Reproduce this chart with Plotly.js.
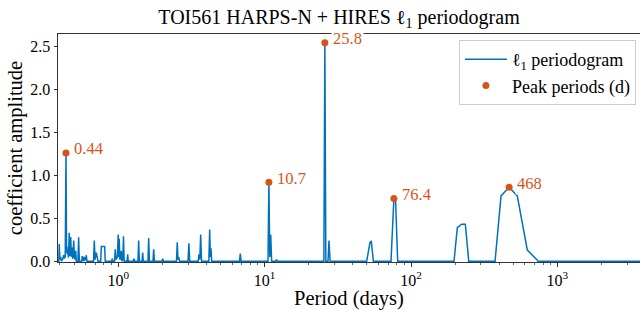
<!DOCTYPE html>
<html>
<head>
<meta charset="utf-8">
<script src="https://cdn.plot.ly/plotly-3.0.1.min.js"></script>
<style>html,body{margin:0;padding:0;background:#fff;overflow:hidden}#chart{width:640px;height:310px}</style>
</head>
<body>
<div id="chart"></div>
<script>
// l1 periodogram: period (days) and coefficient amplitude
const period = [
  0.388, 0.393, 0.396, 0.400, 0.405, 0.409,
  0.419, 0.424, 0.429, 0.435, 0.440, 0.444, 0.447, 0.450, 0.454, 0.458, 0.463, 0.468, 0.474, 0.479, 0.484, 0.490, 0.497, 0.503, 0.509, 0.513, 0.518,
  0.531, 0.537, 0.543,
  0.563, 0.569, 0.575, 0.581, 0.587, 0.593, 0.600, 0.606, 0.612,
  0.679, 0.687, 0.695, 0.709, 0.720, 0.728,
  0.760, 0.767, 0.809, 0.816,
  0.902, 0.911, 0.920, 0.945, 0.955, 0.965, 0.988, 1.000, 1.008, 1.017, 1.027, 1.040, 1.050, 1.060, 1.075, 1.087, 1.099,
  1.150, 1.161, 1.172, 1.268, 1.282, 1.296, 1.365, 1.380, 1.395, 1.455, 1.470, 1.485,
  1.598, 1.616, 1.634, 1.728, 1.748, 1.768, 1.990, 2.014, 2.040,
  2.500, 2.533, 2.560, 2.590, 2.620, 3.000, 3.041, 3.080,
  3.520, 3.564, 3.610, 3.660, 3.710, 4.160, 4.217, 4.260, 4.304, 4.350, 6.740, 6.823, 6.910,
  10.55, 10.70, 10.85, 11.01, 11.17, 11.90, 12.06, 12.22,
  25.4, 25.8, 26.2, 27.1, 27.54, 28.0,
  49.8, 52.5, 53.6, 55.3,
  73.0, 76.4, 78.4, 81.1,
  196.7, 207.2, 222, 235, 248,
  375, 412, 468, 532, 623, 740, 3700
];
const amplitude = [
  0, 0, 0.20, 0.02, 0.05, 0,
  0.03, 0.07, 0.04, 0.05, 1.26, 0.10, 0.17, 0.08, 0.10, 0.04, 0.33, 0.06, 0.28, 0.05, 0.16, 0.03, 0.24, 0.04, 0.02, 0.12, 0,
  0, 0.28, 0,
  0, 0.06, 0.01, 0, 0.05, 0.01, 0.02, 0.07, 0,
  0, 0.24, 0.02, 0.10, 0.05, 0,
  0, 0.17, 0.17, 0,
  0, 0.03, 0, 0, 0.14, 0.02, 0.05, 0.31, 0.05, 0.26, 0.02, 0.03, 0.12, 0, 0.02, 0.29, 0,
  0, 0.08, 0, 0, 0.03, 0, 0, 0.24, 0, 0, 0.10, 0,
  0, 0.27, 0, 0, 0.14, 0, 0, 0.03, 0,
  0, 0.22, 0.02, 0.05, 0, 0, 0.21, 0,
  0, 0.08, 0.02, 0.31, 0, 0, 0.37, 0.05, 0.15, 0, 0, 0.09, 0,
  0, 0.92, 0.05, 0.31, 0, 0, 0.02, 0,
  0, 2.54, 0, 0, 0.24, 0,
  0, 0.22, 0.23, 0,
  0, 0.73, 0.72, 0,
  0, 0.39, 0.43, 0.43, 0,
  0, 0.76, 0.86, 0.76, 0.13, 0, 0
];
// peak periods (d)
const peakPeriods = [0.44, 10.7, 25.8, 76.4, 468];
const peakAmps = [1.26, 0.92, 2.54, 0.73, 0.86];
const peakLabels = ['0.44', '10.7', '25.8', '76.4', '468'];
// axis ticks
const xTickVals = [1, 10, 100, 1000];
const xTickText = ['10<sup>0</sup>', '10<sup>1</sup>', '10<sup>2</sup>', '10<sup>3</sup>'];
const yTickVals = [0, 0.5, 1.0, 1.5, 2.0, 2.5];

const BLUE = '#0072BD', ORANGE = '#D95319';
const FONT = '"Liberation Serif", serif';

const minorVals = [];
for (const dec of [0.1, 1, 10, 100, 1000]) for (let m = 2; m <= 9; m++) minorVals.push(dec * m);

const traces = [
  {x: period, y: amplitude, type: 'scatter', mode: 'lines', name: 'ℓ<sub>1</sub> periodogram',
   line: {color: BLUE, width: 1.5}, hoverinfo: 'skip'},
  {x: peakPeriods, y: peakAmps, type: 'scatter', mode: 'markers', name: 'Peak periods (d)',
   marker: {color: ORANGE, size: 7}, cliponaxis: false}
];

const annotations = peakPeriods.map((p, i) => ({
  x: Math.log10(p), y: peakAmps[i], xref: 'x', yref: 'y', text: peakLabels[i], showarrow: false,
  xanchor: 'left', yanchor: 'middle', xshift: 6, yshift: 4, bgcolor: '#fff', borderpad: 1,
  font: {family: FONT, size: 16.5, color: ORANGE}
}));

const layout = {
  width: 640, height: 310,
  margin: {l: 58, r: 0, t: 34, b: 48},
  paper_bgcolor: '#fff', plot_bgcolor: '#fff',
  font: {family: FONT, size: 16, color: '#000'},
  title: {text: 'TOI561 HARPS-N + HIRES ℓ<sub>1</sub> periodogram', x: 339/640, xanchor: 'center',
          y: 1 - 17/310, yanchor: 'middle', font: {family: FONT, size: 20, color: '#000'}},
  xaxis: {type: 'log', range: [-0.411, 3.564], showgrid: false, zeroline: false,
          showline: true, linecolor: '#333', linewidth: 1, mirror: true, layer: 'below traces',
          ticks: 'outside', ticklen: 3.5, tickwidth: 0.8, tickcolor: '#000',
          tickvals: xTickVals, ticktext: xTickText, tickfont: {family: FONT, size: 16},
          minor: {tickvals: minorVals, ticks: 'outside', ticklen: 2, tickwidth: 0.6, tickcolor: '#000', showgrid: false},
          title: {text: 'Period (days)', font: {family: FONT, size: 20.5}, standoff: 5}},
  yaxis: {range: [-0.009, 2.643], showgrid: false, zeroline: false,
          showline: true, linecolor: '#333', linewidth: 1, mirror: false, layer: 'below traces',
          ticks: 'outside', ticklen: 3.5, tickwidth: 0.8, tickcolor: '#000',
          tickvals: yTickVals, tickformat: '.1f', tickfont: {family: FONT, size: 16},
          title: {text: 'coefficient amplitude', font: {family: FONT, size: 20.5}, standoff: 2}},
  legend: {x: 0.993, y: 0.974, xanchor: 'right', yanchor: 'top', bgcolor: 'rgba(255,255,255,0.8)',
           bordercolor: '#ccc', borderwidth: 1, font: {family: FONT, size: 18}, tracegroupgap: 0,
           itemwidth: 42},
  showlegend: true,
  annotations: annotations
};

Plotly.newPlot('chart', traces, layout, {displayModeBar: false, staticPlot: true});
</script>
</body>
</html>
